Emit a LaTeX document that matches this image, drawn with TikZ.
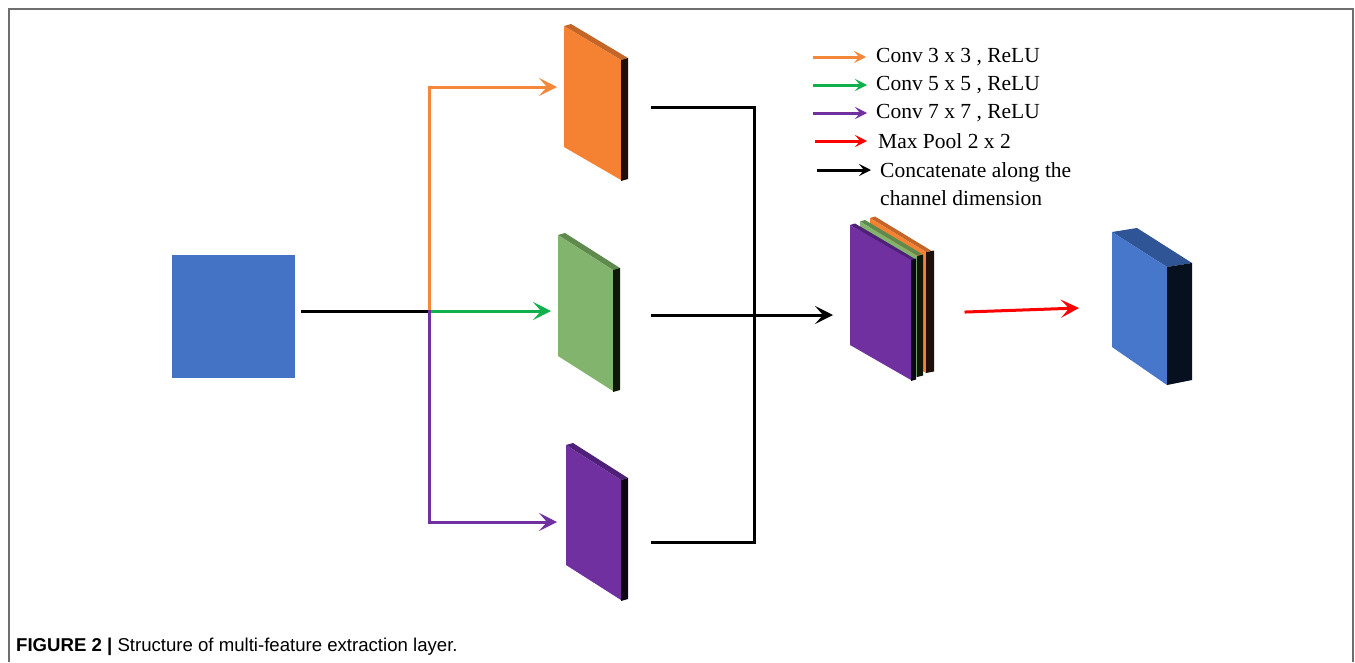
\documentclass[tikz,border=0pt]{standalone}
\usepackage{fontspec}
\setmainfont{Liberation Serif}
\newfontfamily\capfont{Liberation Sans}
\usetikzlibrary{arrows.meta}

\definecolor{framegray}{HTML}{6E6E6E}
\definecolor{inblue}{HTML}{4472C4}
\definecolor{outfront}{HTML}{4677CB}
\definecolor{outtop}{HTML}{2F5597}
\definecolor{outside}{HTML}{06101E}
\definecolor{orfront}{HTML}{F58232}
\definecolor{ortop}{HTML}{C4662A}
\definecolor{orside}{HTML}{1E1008}
\definecolor{grfront}{HTML}{82B46E}
\definecolor{grtop}{HTML}{5E8A4E}
\definecolor{grside}{HTML}{0D180B}
\definecolor{pufront}{HTML}{7030A0}
\definecolor{putop}{HTML}{4E2078}
\definecolor{puside}{HTML}{0B0514}
\definecolor{arrorange}{HTML}{F4873A}
\definecolor{arrgreen}{HTML}{10B04C}
\definecolor{arrpurple}{HTML}{7030A0}
\definecolor{arrred}{HTML}{FF0000}

\tikzset{
  conn/.style={line width=3pt, line cap=rect},
  tip/.style={-{Stealth[length=18pt,width=18pt,inset=8pt]}},
  keytip/.style={-{Stealth[length=12pt,width=12pt,inset=5pt]}},
  keyline/.style={line width=3pt},
  keytext/.style={anchor=west, inner sep=0pt, font=\fontsize{21.5}{28}\selectfont},
}

\begin{document}
\begin{tikzpicture}[x=1pt,y=-1pt]
\useasboundingbox (0,0) rectangle (1355,662);
\fill[white] (0,0) rectangle (1355,662);

% outer frame, open at the bottom
\draw[framegray, line width=2pt] (9,662) -- (9,8.5) -- (1353,8.5) -- (1353,662);

% input map
\node[fill=inblue, minimum size=123pt, inner sep=0pt] (input) at (233.5,316.5) {};

% three convolution branches: orange, green, purple maps
% orange
\fill[ortop] (564,26) -- ++(7,-2) -- ++(57,34) -- ++(-7,2) -- cycle;
\fill[orfront] (564,26) -- (621,60) -- (621,180) -- (564,147) -- cycle;
\fill[orside] (621,60) -- ++(7,-2) -- ++(0,121) -- ++(-7,2) -- cycle;
% green
\fill[grtop] (558,235) -- ++(7,-2) -- ++(55,35) -- ++(-7,2) -- cycle;
\fill[grfront] (558,235) -- (613,270) -- (613,391) -- (558,356) -- cycle;
\fill[grside] (613,270) -- ++(7,-2) -- ++(0,122) -- ++(-7,2) -- cycle;
% purple
\fill[putop] (566,445) -- ++(7,-2) -- ++(55,35) -- ++(-7,2) -- cycle;
\fill[pufront] (566,445) -- (621,480) -- (621,600) -- (566,565) -- cycle;
\fill[puside] (621,480) -- ++(7,-2) -- ++(0,121) -- ++(-7,2) -- cycle;

% concatenated stack (back to front)
\fill[ortop] (870,218) -- ++(5,-1.5) -- ++(56,34) -- ++(-5,1.5) -- cycle;
\fill[orfront] (870,218) -- (926,252) -- (926,373) -- (870,339) -- cycle;
\fill[orside] (926,252) -- ++(8,-1.5) -- ++(0,121) -- ++(-8,1.5) -- cycle;
\fill[grtop] (860,221.5) -- ++(5,-1.5) -- ++(57,34) -- ++(-5,1.5) -- cycle;
\fill[grfront] (860,221.5) -- (917,256) -- (917,377) -- (860,342) -- cycle;
\fill[grside] (917,256) -- ++(6,-1.5) -- ++(0,121) -- ++(-6,1.5) -- cycle;
\fill[putop] (850,225) -- ++(5,-1.5) -- ++(61,36) -- ++(-5,1.5) -- cycle;
\fill[pufront] (850,225) -- (911,260) -- (911,380) -- (850,345) -- cycle;
\fill[puside] (911,260) -- ++(5,-1.5) -- ++(0,121) -- ++(-5,1.5) -- cycle;

% pooled output block
\fill[outtop] (1112,232) -- (1137,228) -- (1192,263) -- (1167,267) -- cycle;
\fill[outfront] (1112,232) -- (1167,267) -- (1167,385) -- (1112,347) -- cycle;
\fill[outside] (1167,267) -- (1192,263) -- (1192,380) -- (1167,385) -- cycle;

% connector anchors
\coordinate (src) at (302,311);
\coordinate (split) at (429,311);
\coordinate (toOr) at (557,87);
\coordinate (toGr) at (551,311);
\coordinate (toPu) at (557,522);
\coordinate (fromOr) at (652,107);
\coordinate (fromGr) at (652,315);
\coordinate (fromPu) at (652,542);
\coordinate (merge) at (754,315);
\coordinate (toStack) at (833,315);
\coordinate (poolFrom) at (966,312);
\coordinate (poolTo) at (1079,308);

% input to branch point
\draw[conn, black] (src) -- (split);
\draw[conn, arrorange, tip] (split) |- (toOr);
\draw[conn, arrgreen, tip] (split) -- (toGr);
\draw[conn, arrpurple, tip] (split) |- (toPu);

% branch outputs joined for concatenation
\draw[conn, black] (fromOr) -| (merge |- fromPu) -- (fromPu);
\draw[conn, black, tip] (fromGr) -- (toStack);

% max pooling
\draw[conn, arrred, tip] (poolFrom) -- (poolTo);

% key
\coordinate (k1a) at (813,57);  \coordinate (k1b) at (866,57);
\coordinate (k2a) at (813,85);  \coordinate (k2b) at (867,85);
\coordinate (k3a) at (813,113); \coordinate (k3b) at (867,113);
\coordinate (k4a) at (815,141); \coordinate (k4b) at (867,141);
\coordinate (k5a) at (817,170); \coordinate (k5b) at (871,170);
\draw[keyline, arrorange, keytip] (k1a) -- (k1b);
\draw[keyline, arrgreen, keytip] (k2a) -- (k2b);
\draw[keyline, arrpurple, keytip] (k3a) -- (k3b);
\draw[keyline, arrred, keytip] (k4a) -- (k4b);
\draw[keyline, black, keytip] (k5a) -- (k5b);
\node[keytext] (t1) at (876,57) {Conv 3 x 3 , ReLU};
\node[keytext] (t2) at (876,85) {Conv 5 x 5 , ReLU};
\node[keytext] (t3) at (876,113) {Conv 7 x 7 , ReLU};
\node[keytext] (t4) at (878,141) {Max Pool 2 x 2};
\node[keytext, align=left] (t5) at (880,184) {Concatenate along the\\channel dimension};

% caption
\node[anchor=base west, inner sep=0pt, font=\capfont\fontsize{18.6}{22}\selectfont] (cap) at (16,651)
  {\textbf{FIGURE 2 |} Structure of multi-feature extraction layer.};
\end{tikzpicture}
\end{document}
